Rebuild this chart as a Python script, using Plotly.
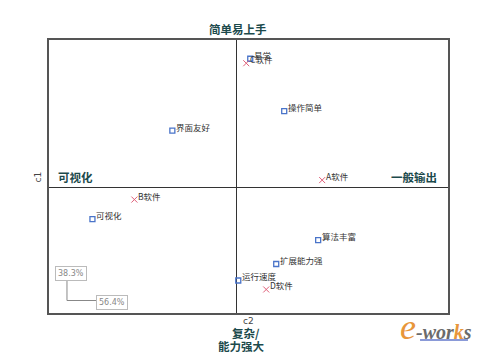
import plotly.graph_objects as go

# Attribute points (blue squares)
attr_labels = ["易学", "操作简单", "界面友好", "可视化", "算法丰富", "扩展能力强", "运行速度"]
attr_x = [0.07, 0.24, -0.32, -0.72, 0.41, 0.20, 0.01]
attr_y = [0.86, 0.51, 0.38, -0.21, -0.35, -0.51, -0.62]

# Software points (red crosses)
soft_labels = ["C软件", "A软件", "B软件", "D软件"]
soft_x = [0.05, 0.43, -0.51, 0.15]
soft_y = [0.83, 0.05, -0.08, -0.68]

explained = ["38.3%", "56.4%"]

TEAL = "#1c4a4c"
PAGE_W, PAGE_H = 488, 356
OFF = 8  # default page body margin
L, R, T, B = 48.5, 448, 40, 313

def px(x):
    return (x - L) / (R - L)

def py(y):
    return (B - y) / (B - T)

fig = go.Figure()
fig.add_trace(go.Scatter(
    x=attr_x, y=attr_y, mode="markers",
    marker=dict(symbol="square-open", size=5, color="#4a74c9", line=dict(width=1.3)),
    cliponaxis=False, hoverinfo="skip"))
fig.add_trace(go.Scatter(
    x=soft_x, y=soft_y, mode="markers",
    marker=dict(symbol="x-thin-open", size=6, color="#e0607a", line=dict(width=1, color="#e0607a")),
    cliponaxis=False, hoverinfo="skip"))

fig.update_xaxes(range=[-0.9375, 1.06], showgrid=False, zeroline=True, zerolinecolor="#333",
                 zerolinewidth=1, showticklabels=False, ticks="", showline=True, linecolor="#555",
                 linewidth=1.5, mirror=True)
fig.update_yaxes(range=[-0.837, 0.985], showgrid=False, zeroline=True, zerolinecolor="#333",
                 zerolinewidth=1, showticklabels=False, ticks="", showline=True, linecolor="#555",
                 linewidth=1.5, mirror=True)

ann = []
# point labels (data coordinates)
lab_font = dict(size=8.5, color="#333", family="Noto Sans CJK SC")
for xs, ys, ls in ((attr_x, attr_y, attr_labels), (soft_x, soft_y, soft_labels)):
    for xv, yv, lv in zip(xs, ys, ls):
        ann.append(dict(x=xv, y=yv, xref="x", yref="y", text=lv, font=lab_font,
                        xanchor="left", yanchor="middle", xshift=1.5, yshift=4, showarrow=False))

bold = dict(family="Noto Sans CJK SC", size=11.5, color=TEAL)
paper_ann = []
paper_ann.append(dict(x=px(238), y=py(29), text="<b>简单易上手</b>", font=bold, xanchor="center", yanchor="middle"))
paper_ann.append(dict(x=px(56), y=py(177), text="<b>可视化</b>", font=bold, xanchor="left", yanchor="middle"))
paper_ann.append(dict(x=px(439), y=py(177), text="<b>一般输出</b>", font=bold, xanchor="right", yanchor="middle"))
paper_ann.append(dict(x=px(230), y=py(332.5), text="<b>复杂/</b>", font=bold, xanchor="left", yanchor="middle"))
paper_ann.append(dict(x=px(241.5), y=py(346), text="<b>能力强大</b>", font=bold, xanchor="center", yanchor="middle"))
paper_ann.append(dict(x=px(248), y=py(321), text="c2", font=dict(size=9, color="#444", family="DejaVu Sans"),
                      xanchor="center", yanchor="middle"))
paper_ann.append(dict(x=px(37), y=py(177), text="c1", textangle=-90,
                      font=dict(size=9, color="#444", family="DejaVu Sans"), xanchor="center", yanchor="middle"))
# callout boxes
paper_ann.append(dict(x=px(71), y=py(273), text=explained[0], font=dict(size=8, color="#888", family="DejaVu Sans"),
                      bordercolor="#bbb", borderwidth=1, borderpad=2, bgcolor="white",
                      xanchor="center", yanchor="middle"))
paper_ann.append(dict(x=px(111.5), y=py(302), text=explained[1], font=dict(size=8, color="#888", family="DejaVu Sans"),
                      bordercolor="#bbb", borderwidth=1, borderpad=2, bgcolor="white",
                      xanchor="center", yanchor="middle"))
# logo
paper_ann.append(dict(x=px(436), y=py(327), text="<i><span style='color:#e8963a;font-size:36px'>e</span>"
                      "<b>-wor<span style='color:#e8963a'>k</span>s</b></i>",
                      font=dict(size=20, color="#6b6b6b", family="Liberation Serif"),
                      xanchor="center", yanchor="middle"))
for a in paper_ann:
    a.update(xref="paper", yref="paper", showarrow=False)
ann.extend(paper_ann)

shapes = [
    dict(type="path", xref="paper", yref="paper",
         path=f"M {px(66.5)} {py(280)} L {px(66.5)} {py(300.5)} L {px(98)} {py(300.5)}",
         line=dict(color="#888", width=1)),
    dict(type="line", xref="paper", yref="paper", x0=px(420), x1=px(468), y0=py(340), y1=py(340),
         line=dict(color="#8a9ad8", width=2)),
]

fig.update_layout(width=PAGE_W - OFF, height=PAGE_H - OFF,
                  margin=dict(l=L - OFF, r=PAGE_W - R, t=T - OFF, b=PAGE_H - B),
                  paper_bgcolor="white", plot_bgcolor="white", showlegend=False,
                  annotations=ann, shapes=shapes)
fig.write_html("out.html")
